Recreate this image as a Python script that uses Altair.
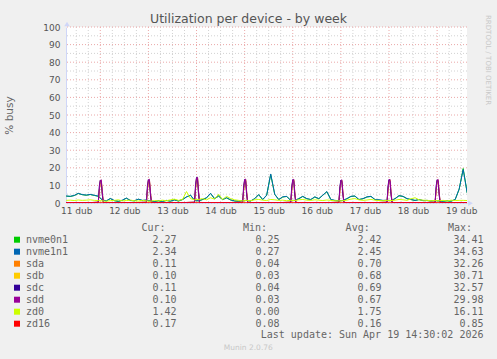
import altair as alt
import pandas as pd

# ---------------- texts ----------------
title_text = "Utilization per device - by week"
y_title = "% busy"
side_text = "RRDTOOL / TOBI OETIKER"
update_text = "Last update: Sun Apr 19 14:30:02 2026"
version_text = "Munin 2.0.76"
headers = ["Cur:", "Min:", "Avg:", "Max:"]

# x axis: hours since 11 Apr 00:00; labels at noon of each day
day_labels = ["11 dub", "12 dub", "13 dub", "14 dub", "15 dub",
              "16 dub", "17 dub", "18 dub", "19 dub"]
label_hours = [12, 36, 60, 84, 108, 132, 156, 180, 204]
y_ticks = [0, 10, 20, 30, 40, 50, 60, 70, 80, 90, 100]
minor_y = [5, 15, 25, 35, 45, 55, 65, 75, 85, 95]
major_x = [24, 48, 72, 96, 120, 144, 168, 192]
minor_x = [12, 18, 30, 36, 42, 54, 60, 66, 78, 84, 90, 102, 108, 114,
           126, 132, 138, 150, 156, 162, 174, 180, 186, 198, 204]

# ---------------- legend table ----------------
names = ["nvme0n1", "nvme1n1", "sda", "sdb", "sdc", "sdd", "zd0", "zd16"]
colors = ["#00CC00", "#0066B3", "#FF8000", "#FFCC00",
          "#330099", "#990099", "#CCFF00", "#FF0000"]
cur_vals = [2.27, 2.34, 0.11, 0.10, 0.11, 0.10, 1.42, 0.17]
min_vals = [0.25, 0.27, 0.04, 0.03, 0.04, 0.03, 0.00, 0.08]
avg_vals = [2.42, 2.45, 0.70, 0.68, 0.69, 0.67, 1.75, 0.16]
max_vals = [34.41, 34.63, 32.26, 30.71, 32.57, 29.98, 16.11, 0.85]

# ---------------- series ----------------
nv_hours = list(range(7, 209, 2))  # sample times, every 2 h
nvme1n1 = [4.0, 3.8, 4.3, 5.5, 4.8, 4.5, 4.9, 4.4, 3.9,
           1.8, 1.2, 2.6, 1.4, 1.0, 1.6, 2.8, 1.5, 1.3, 2.2, 1.5, 1.7,
           1.2, 0.8, 1.3, 0.9, 1.5, 1.1, 1.8, 1.2, 2.0, 3.5, 4.5, 1.5,
           1.3, 2.0, 3.0, 5.5, 2.5, 4.0, 2.0, 3.0, 1.8, 1.2, 1.0, 1.4,
           1.5, 1.2, 2.5, 4.8, 2.0, 4.5, 16.5, 5.0, 2.0, 3.5, 3.8, 1.5,
           1.5, 2.5, 3.8, 2.5, 2.0, 3.5, 2.5, 4.5, 6.5, 2.0, 1.5, 1.3,
           1.5, 2.5, 3.8, 4.0, 2.0, 2.5, 3.5, 3.8, 2.0, 1.8, 1.5, 1.6,
           1.4, 2.5, 4.2, 3.8, 2.5, 2.0, 1.5, 2.0, 1.4, 1.5, 1.2, 1.5,
           1.2, 1.0, 1.3, 1.1, 2.0, 8.0, 19.0, 5.8]
nvme0n1 = [3.9, 3.7, 4.2, 5.4, 4.7, 4.4, 4.8, 4.3, 3.8,
           1.7, 1.1, 2.5, 1.3, 0.9, 1.5, 2.7, 1.4, 1.2, 2.1, 1.4, 1.6,
           1.1, 0.8, 1.2, 0.9, 1.4, 1.0, 1.7, 1.1, 1.9, 3.4, 4.4, 1.4,
           1.2, 1.9, 2.9, 5.4, 2.4, 3.9, 1.9, 2.9, 1.7, 1.1, 1.0, 1.3,
           1.4, 1.1, 2.4, 4.7, 1.9, 4.4, 16.2, 4.9, 1.9, 3.4, 3.7, 1.4,
           1.4, 2.4, 3.7, 2.4, 1.9, 3.4, 2.4, 4.4, 6.4, 1.9, 1.4, 1.2,
           1.4, 2.4, 3.7, 3.9, 1.9, 2.4, 3.4, 3.7, 1.9, 1.7, 1.4, 1.5,
           1.3, 2.4, 4.1, 3.7, 2.4, 1.9, 1.4, 1.9, 1.3, 1.4, 1.1, 1.4,
           1.1, 1.0, 1.2, 1.0, 1.9, 7.8, 19.6, 5.7]
zd0 = [1.5, 1.6, 1.4, 1.7, 1.5, 1.6, 1.8, 1.5, 1.4,
       1.2, 1.0, 1.3, 1.5, 1.8, 1.2, 1.4, 1.6, 1.3, 1.1, 1.5, 1.2,
       1.0, 1.4, 1.2, 1.6, 1.3, 1.8, 2.2, 1.5, 2.0, 6.5, 2.5, 1.8,
       2.0, 2.5, 1.8, 3.0, 2.2, 5.0, 2.0, 3.8, 2.5, 1.8, 1.5, 1.2,
       1.5, 1.3, 1.8, 2.0, 1.6, 1.4, 2.0, 1.8, 1.5, 1.6, 1.3, 1.5,
       1.4, 1.8, 2.0, 1.6, 1.5, 1.8, 1.6, 1.4, 1.7, 1.5, 1.3, 1.2,
       1.3, 1.6, 2.2, 2.5, 1.8, 1.5, 1.7, 2.0, 1.6, 1.4, 1.3, 1.5,
       1.4, 1.6, 2.0, 1.8, 1.5, 2.4, 3.0, 1.8, 1.6, 1.5, 1.3, 1.4,
       1.3, 1.5, 1.2, 1.6, 1.4, 1.5, 1.5, 1.4]

sd_hours = [6, 12, 18,
            23, 23.5, 24, 24.5, 25, 25.5, 26, 32, 40,
            47, 47.5, 48, 48.5, 49, 49.5, 50, 56, 64,
            71, 71.5, 72, 72.5, 73, 73.5, 74, 80, 88,
            95, 95.5, 96, 96.5, 97, 97.5, 98, 104, 112,
            119, 119.5, 120, 120.5, 121, 121.5, 122, 128, 136,
            143, 143.5, 144, 144.5, 145, 145.5, 146, 152, 160,
            167, 167.5, 168, 168.5, 169, 169.5, 170, 176, 184,
            191, 191.5, 192, 192.5, 193, 193.5, 194, 200, 208]
sda = [0.2, 0.2, 0.2,
       0.4, 7.0, 12.3, 12.7, 5.5, 0.5, 0.3, 0.2, 0.2,
       0.4, 7.2, 12.6, 13.0, 5.6, 0.5, 0.3, 0.2, 0.2,
       0.4, 7.8, 13.7, 14.2, 6.0, 0.5, 0.3, 0.2, 0.2,
       0.4, 7.2, 12.7, 13.1, 5.6, 0.5, 0.3, 0.2, 0.2,
       0.4, 7.1, 12.6, 13.0, 5.5, 0.5, 0.3, 0.2, 0.2,
       0.4, 7.0, 12.3, 12.7, 5.4, 0.5, 0.3, 0.2, 0.2,
       0.4, 7.2, 12.6, 13.0, 5.6, 0.5, 0.3, 0.2, 0.2,
       0.4, 7.1, 12.5, 12.9, 5.5, 0.5, 0.3, 0.2, 0.2]
sdb = [0.2, 0.2, 0.2,
       0.4, 7.2, 12.5, 12.9, 5.7, 0.5, 0.3, 0.2, 0.2,
       0.4, 7.4, 12.8, 13.2, 5.8, 0.5, 0.3, 0.2, 0.2,
       0.4, 8.0, 13.9, 14.4, 6.2, 0.5, 0.3, 0.2, 0.2,
       0.4, 7.4, 12.9, 13.3, 5.8, 0.5, 0.3, 0.2, 0.2,
       0.4, 7.3, 12.8, 13.2, 5.7, 0.5, 0.3, 0.2, 0.2,
       0.4, 7.2, 12.5, 12.9, 5.6, 0.5, 0.3, 0.2, 0.2,
       0.4, 7.4, 12.8, 13.2, 5.8, 0.5, 0.3, 0.2, 0.2,
       0.4, 7.3, 12.7, 13.1, 5.7, 0.5, 0.3, 0.2, 0.2]
sdc = [0.2, 0.2, 0.2,
       0.4, 9.5, 13.0, 12.0, 4.5, 0.4, 0.3, 0.2, 0.2,
       0.4, 9.7, 13.3, 12.2, 4.6, 0.4, 0.3, 0.2, 0.2,
       0.4, 10.3, 14.5, 13.4, 5.0, 0.4, 0.3, 0.2, 0.2,
       0.4, 9.7, 13.4, 12.3, 4.6, 0.4, 0.3, 0.2, 0.2,
       0.4, 9.6, 13.3, 12.2, 4.5, 0.4, 0.3, 0.2, 0.2,
       0.4, 9.5, 13.0, 12.0, 4.4, 0.4, 0.3, 0.2, 0.2,
       0.4, 9.7, 13.3, 12.2, 4.6, 0.4, 0.3, 0.2, 0.2,
       0.4, 9.6, 13.2, 12.1, 4.5, 0.4, 0.3, 0.2, 0.2]
sdd = [0.2, 0.2, 0.2,
       0.4, 7.5, 12.8, 13.2, 6.5, 0.5, 0.3, 0.2, 0.2,
       0.4, 7.7, 13.1, 13.5, 6.6, 0.5, 0.3, 0.2, 0.2,
       0.4, 8.3, 14.2, 14.7, 7.0, 0.5, 0.3, 0.2, 0.2,
       0.4, 7.7, 13.2, 13.6, 6.6, 0.5, 0.3, 0.2, 0.2,
       0.4, 7.6, 13.1, 13.5, 6.5, 0.5, 0.3, 0.2, 0.2,
       0.4, 7.5, 12.8, 13.2, 6.4, 0.5, 0.3, 0.2, 0.2,
       0.4, 7.7, 13.1, 13.5, 6.6, 0.5, 0.3, 0.2, 0.2,
       0.4, 7.6, 13.0, 13.4, 6.5, 0.5, 0.3, 0.2, 0.2]
zd16_hours = [6, 19, 31, 43, 55, 67, 79, 91, 103, 115, 127, 139,
              151, 163, 175, 187, 199, 208]
zd16 = [0.15, 0.16, 0.15, 0.17, 0.16, 0.15, 0.18, 0.16, 0.15, 0.16,
        0.17, 0.15, 0.16, 0.16, 0.15, 0.17, 0.16, 0.17]

series = [(nv_hours, nvme0n1), (nv_hours, nvme1n1), (sd_hours, sda),
          (sd_hours, sdb), (sd_hours, sdc), (sd_hours, sdd),
          (nv_hours, zd0), (zd16_hours, zd16)]

# ---------------- styling ----------------
FONT = "DejaVu Sans"
MONO = "DejaVu Sans Mono"
TXT = "#666666"
AXIS_COL = "#CFD6F8"
MINOR_COL = "#D2D2D2"
MAJOR_COL = "#EBA8A8"

x_scale = alt.Scale(domain=[6.9, 206.9], nice=False, zero=False)
y_scale = alt.Scale(domain=[0, 100], nice=False)

label_expr = "[" + ",".join("'%s'" % d for d in day_labels) + "][round((datum.value - 12) / 24)]"
x_axis = alt.Axis(values=label_hours, labelExpr=label_expr, ticks=False, grid=False,
                  domainColor=AXIS_COL, labelFont=FONT, labelFontSize=9,
                  labelColor="#555555", labelPadding=3, title=None)
y_axis = alt.Axis(values=y_ticks, ticks=False, grid=False, domainColor=AXIS_COL,
                  labelFont=FONT, labelFontSize=9, labelColor="#555555", labelPadding=6,
                  title=y_title, titleX=-57, titleY=88, titleAngle=270,
                  titleAlign="center", titleBaseline="middle", titleFont=FONT,
                  titleFontSize=10.5, titleFontWeight="normal", titleColor=TXT)

x_enc = alt.X("h:Q", scale=x_scale, axis=x_axis)
y_plain = alt.Y("v:Q", scale=y_scale, axis=None)

layers = []
# grid
layers.append(alt.Chart(pd.DataFrame({"v": minor_y})).mark_rule(
    color=MINOR_COL, strokeDash=[1, 2], strokeWidth=1).encode(
    y=alt.Y("v:Q", scale=y_scale, axis=y_axis)))
layers.append(alt.Chart(pd.DataFrame({"h": minor_x})).mark_rule(
    color=MINOR_COL, strokeDash=[1, 2], strokeWidth=1).encode(x=x_enc))
layers.append(alt.Chart(pd.DataFrame({"v": y_ticks})).mark_rule(
    color=MAJOR_COL, strokeDash=[1, 2], strokeWidth=1).encode(y=y_plain))
layers.append(alt.Chart(pd.DataFrame({"h": major_x})).mark_rule(
    color=MAJOR_COL, strokeDash=[1, 2], strokeWidth=1).encode(x=x_enc))

# series lines
for (hrs, vals), col in zip(series, colors):
    df = pd.DataFrame({"h": hrs, "v": vals})
    layers.append(alt.Chart(df).mark_line(color=col, strokeWidth=1, clip=True)
                  .encode(x=x_enc, y=y_plain))

# axis arrows
one = pd.DataFrame({"k": [0]})
layers.append(alt.Chart(one).mark_point(shape="triangle-up", filled=True, size=30,
                                        color=AXIS_COL, opacity=1).encode(
    x=alt.value(1), y=alt.value(-3)))
layers.append(alt.Chart(one).mark_point(shape="triangle-right", filled=True, size=30,
                                        color=AXIS_COL, opacity=1).encode(
    x=alt.value(404.5), y=alt.value(176.3)))

# title & side text
layers.append(alt.Chart(pd.DataFrame({"t": [title_text]})).mark_text(
    font=FONT, fontSize=12.5, color="#555555", align="center", baseline="middle").encode(
    text="t:N", x=alt.value(182.5), y=alt.value(-7.7)))
layers.append(alt.Chart(pd.DataFrame({"t": [side_text]})).mark_text(
    font=FONT, fontSize=7, color="#C8C8C8", align="left", baseline="middle", angle=90).encode(
    text="t:N", x=alt.value(421.5), y=alt.value(-12)))

# legend
leg = pd.DataFrame({"name": names, "color": colors, "cur": cur_vals, "mn": min_vals,
                    "avg": avg_vals, "mx": max_vals, "row": list(range(len(names)))})
row_y = alt.Y("row:Q", scale=alt.Scale(domain=[0, 7], range=[212.7, 296.7]), axis=None)
layers.append(alt.Chart(leg).mark_square(size=36, opacity=1).encode(
    x=alt.value(-49), y=row_y, color=alt.Color("color:N", scale=None)))
layers.append(alt.Chart(leg).mark_text(font=MONO, fontSize=10, color=TXT, align="left",
                                       baseline="middle").encode(
    x=alt.value(-40), y=row_y, text="name:N"))
col_right = [110.5, 213.5, 315.5, 417.5]
head_right = [99.5, 201, 303.7, 406]
for field, xr, hd, hx in zip(["cur", "mn", "avg", "mx"], col_right, headers, head_right):
    layers.append(alt.Chart(leg).mark_text(font=MONO, fontSize=10, color=TXT, align="right",
                                           baseline="middle").encode(
        x=alt.value(xr), y=row_y, text=alt.Text(field + ":Q", format=".2f")))
    layers.append(alt.Chart(pd.DataFrame({"t": [hd]})).mark_text(
        font=MONO, fontSize=10, color=TXT, align="right", baseline="middle").encode(
        x=alt.value(hx), y=alt.value(200.7), text="t:N"))
layers.append(alt.Chart(pd.DataFrame({"t": [update_text]})).mark_text(
    font=MONO, fontSize=10, color=TXT, align="right", baseline="middle").encode(
    x=alt.value(417.5), y=alt.value(308.3), text="t:N"))
layers.append(alt.Chart(pd.DataFrame({"t": [version_text]})).mark_text(
    font=FONT, fontSize=7.5, color="#C8C8C8", align="center", baseline="middle").encode(
    x=alt.value(182.3), y=alt.value(321.3), text="t:N"))

chart = alt.layer(*layers).resolve_scale(y="independent").properties(
    width=401, height=176,
    autosize=alt.AutoSizeParams(type="none"),
    padding={"left": 66, "top": 27, "right": 30, "bottom": 156},
).configure(background="#F0F0F0").configure_view(fill="#FFFFFF", stroke=None)

chart.save("out.html", embed_options={"renderer": "svg", "actions": False})
